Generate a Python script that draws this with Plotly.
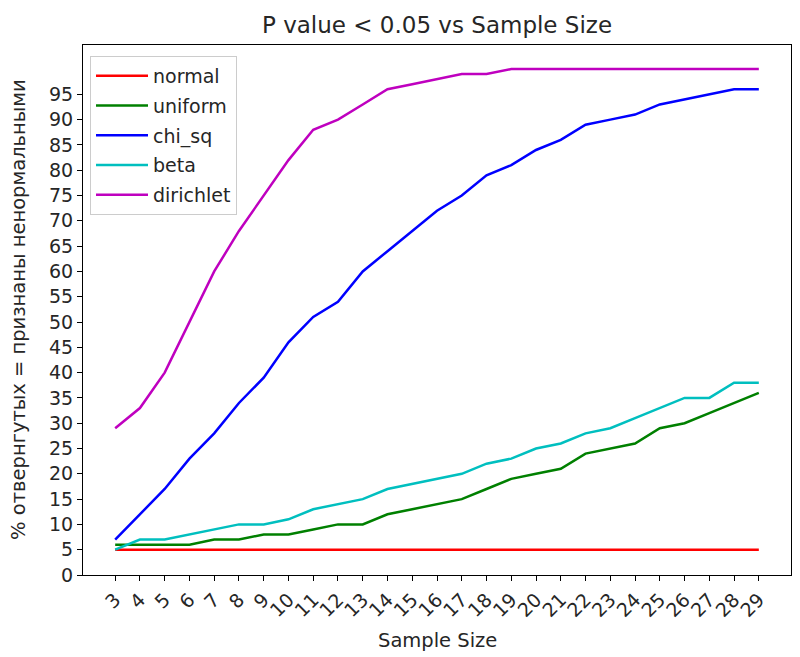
import plotly.graph_objects as go

sample_sizes = list(range(3, 30))

normal = [5] * 27
uniform = [6, 6, 6, 6, 7, 7, 8, 8, 9, 10, 10, 12, 13, 14, 15, 17, 19, 20, 21, 24, 25, 26, 29, 30, 32, 34, 36]
chi_sq = [7, 12, 17, 23, 28, 34, 39, 46, 51, 54, 60, 64, 68, 72, 75, 79, 81, 84, 86, 89, 90, 91, 93, 94, 95, 96, 96]
beta = [5, 7, 7, 8, 9, 10, 10, 11, 13, 14, 15, 17, 18, 19, 20, 22, 23, 25, 26, 28, 29, 31, 33, 35, 35, 38, 38]
dirichlet = [29, 33, 40, 50, 60, 68, 75, 82, 88, 90, 93, 96, 97, 98, 99, 99, 100, 100, 100, 100, 100, 100, 100, 100, 100, 100, 100]

series = [
    ("normal", normal, "#ff0000"),
    ("uniform", uniform, "#008000"),
    ("chi_sq", chi_sq, "#0000ff"),
    ("beta", beta, "#00bfbf"),
    ("dirichlet", dirichlet, "#bf00bf"),
]

y_ticks = list(range(0, 100, 5))

fig = go.Figure()
for name, vals, color in series:
    fig.add_trace(go.Scatter(x=sample_sizes, y=vals, mode="lines", name=name, legendgroup=name,
                             line=dict(color=color, width=2.5)))

# page body has an 8px margin, so the figure is sized/positioned to compensate
W, H = 792, 649
L, R, T, B = 75, 9, 37, 82
plot_w = W - L - R
plot_h = H - T - B

font_family = "DejaVu Sans"
fig.update_layout(
    width=W, height=H,
    margin=dict(l=L, r=R, t=T, b=B, autoexpand=False),
    paper_bgcolor="white", plot_bgcolor="white",
    font=dict(family=font_family, size=19, color="#262626"),
    title=dict(text="P value < 0.05 vs Sample Size", x=(L + plot_w / 2) / W, xanchor="center",
               y=1 - 17 / H, yanchor="middle", font=dict(size=23, color="#262626")),
    showlegend=True,
    legend=dict(x=(82 - L) / plot_w, y=(plot_h + T - 48) / plot_h, xanchor="left", yanchor="top",
                bgcolor="rgba(255,255,255,0.8)", bordercolor="#cccccc", borderwidth=1,
                font=dict(size=19, color="#262626"), tracegroupgap=2, itemwidth=52),
    annotations=[
        dict(text="Sample Size", xref="paper", yref="paper", x=0.5, y=-(632 - (T + plot_h)) / plot_h,
             xanchor="center", yanchor="middle", showarrow=False, font=dict(size=19.5)),
        dict(text="% отвернгутых = признаны ненормальными", xref="paper", yref="paper",
             x=(10 - L) / plot_w, y=0.5, xanchor="center", yanchor="middle", textangle=-90,
             showarrow=False, font=dict(size=19.5)),
    ],
)
fig.update_xaxes(
    range=[1.7, 30.3], tickmode="array", tickvals=sample_sizes,
    ticktext=[str(s) for s in sample_sizes], tickangle=-45,
    showgrid=False, zeroline=False, showline=True, linecolor="black", linewidth=1.2,
    mirror=True, ticks="outside", ticklen=5, tickcolor="black",
    tickfont=dict(size=19), automargin=False,
)
fig.update_yaxes(
    range=[0, 104.75], tickmode="array", tickvals=y_ticks,
    ticktext=[str(v) for v in y_ticks],
    showgrid=False, zeroline=False, showline=True, linecolor="black", linewidth=1.2,
    mirror=True, ticks="outside", ticklen=5, tickcolor="black",
    tickfont=dict(size=19), automargin=False,
)

fig.write_html("out.html")
